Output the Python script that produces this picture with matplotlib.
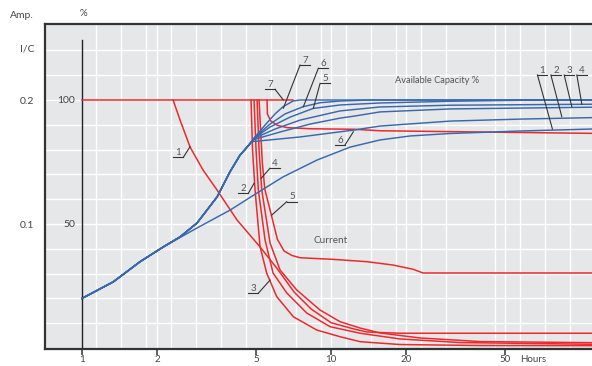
import matplotlib
matplotlib.use("Agg")
from matplotlib import pyplot as plt

plt.rcParams['font.family'] = ['Lato', 'DejaVu Sans']

# ---- available capacity (%) vs hours, blue ----
trunk_h = [1.0, 1.336, 1.71, 2.123]
trunk_p = [20.0, 26.7, 34.8, 40.8]
upper_h = [2.475, 2.896, 3.485, 3.93, 4.311, 4.599]
upper_p = [44.8, 50.4, 60.9, 71.1, 77.8, 81.0]

cap1_h = [2.896, 3.93, 5.045, 6.416, 8.784, 11.92, 15.73, 20.76, 30.06, 57.4, 111.6]
cap1_p = [48.4, 55.6, 62.5, 69.0, 75.8, 81.0, 83.9, 85.5, 86.5, 87.5, 88.3]
cap2_h = [4.80, 7.507, 12.37, 15.73, 30.06, 57.4, 111.6]
cap2_p = [83.2, 85.1, 87.9, 89.5, 91.5, 92.3, 92.9]
cap3_h = [4.906, 6.241, 8.235, 10.87, 12.37, 15.73, 30.06, 111.6]
cap3_p = [84.1, 87.1, 90.3, 92.7, 93.5, 95.2, 96.4, 97.1]
cap4_h = [4.952, 5.958, 7.507, 10.87, 15.73, 30.06, 111.6]
cap4_p = [84.7, 88.3, 91.9, 95.6, 97.2, 97.9, 98.3]
cap5_h = [4.952, 5.689, 6.845, 8.466, 10.87, 15.73, 30.06, 57.4, 111.6]
cap5_p = [84.9, 89.1, 93.1, 96.6, 98.0, 98.8, 99.5, 99.9, 100.0]
cap6_h = [4.952, 5.689, 6.536, 7.718, 9.034, 10.87, 14.34, 111.6]
cap6_p = [85.1, 90.3, 94.4, 97.3, 98.9, 99.6, 100.0, 100.0]
cap7_h = [4.952, 5.432, 5.958, 6.416, 7.037, 7.507, 111.6]
cap7_p = [85.1, 89.9, 94.4, 97.3, 99.6, 100.0, 100.0]

# ---- charge current (I/C) vs hours, red ----
flat_h = [1.0, 7.04]
flat_i = [0.2, 0.2]
cur1_h = [2.321, 2.475, 2.715, 3.062, 3.485, 4.193, 5.187, 6.071, 7.101, 8.312, 10.0, 12.37, 13.95, 18.93, 111.6]
cur1_i = [0.2, 0.1839, 0.1621, 0.1435, 0.1274, 0.1032, 0.0815, 0.0641, 0.0452, 0.0315, 0.0204, 0.0153, 0.0129, 0.0119, 0.0119]
cur2_h = [4.771, 4.838, 4.952, 5.187, 5.518, 6.053, 7.056, 8.760, 10.87, 13.08, 18.93, 39.67, 111.6]
cur2_i = [0.2, 0.1597, 0.1274, 0.0817, 0.0602, 0.0414, 0.0252, 0.0145, 0.0091, 0.0051, 0.0028, 0.0020, 0.0019]
cur3_h = [4.906, 4.998, 5.105, 5.432, 5.848, 6.639, 7.988, 9.908, 13.08, 18.93, 32.97, 111.6]
cur3_i = [0.2, 0.1597, 0.1274, 0.0871, 0.0605, 0.0444, 0.0282, 0.0172, 0.0119, 0.0073, 0.0044, 0.0030]
cur4_h = [5.045, 5.139, 5.268, 5.689, 6.241, 7.281, 9.034, 10.87, 13.08, 15.73, 22.78, 39.67, 111.6]
cur4_i = [0.2, 0.1597, 0.1274, 0.0847, 0.0629, 0.0468, 0.0306, 0.0212, 0.0161, 0.0121, 0.0081, 0.0052, 0.0043]
cur5_h = [5.139, 5.211, 5.298, 5.417, 5.726, 6.087, 6.476, 6.973, 7.507, 10.19, 13.95, 17.74, 21.35, 23.42, 111.6]
cur5_i = [0.2, 0.1758, 0.1494, 0.1282, 0.1091, 0.0877, 0.0782, 0.0746, 0.0728, 0.0715, 0.0696, 0.0669, 0.0635, 0.0605, 0.0605]
cur6_h = [5.534, 5.55, 5.726, 6.087, 6.678, 8.288, 12.37, 15.73, 111.6]
cur6_i = [0.2, 0.1887, 0.1831, 0.1796, 0.1777, 0.1768, 0.1764, 0.1752, 0.1731]

x_ticks = [1, 2, 5, 10, 20, 50]
grid_h = [1.136, 1.431, 1.803, 2.0, 2.271, 2.861, 3.605, 4.541, 5.721, 7.207, 9.08, 10.0,
          11.44, 14.41, 18.15, 20.0, 22.87, 28.81, 45.72, 50.0, 57.6, 72.56, 91.41]

# curve labels: number, leader start, leader end, underline direction
tags = [
    ("1", (2.552, 76.9), (2.715, 81.2), -1),
    ("7", (5.958, 104.3), (6.434, 100.0), -1),
    ("7", (7.507, 114.1), (6.434, 96.7), 1),
    ("6", (8.89, 112.8), (7.74, 97.3), 1),
    ("5", (9.034, 106.7), (8.49, 96.7), 1),
    ("6", (11.38, 81.9), (12.29, 87.2), -1),
    ("2", (4.655, 62.4), (4.906, 66.4), -1),
    ("4", (5.689, 72.5), (5.235, 68.4), 1),
    ("5", (6.639, 59.0), (5.778, 53.6), 1),
    ("3", (5.105, 22.1), (5.689, 27.4), -1),
    ("1", (67.4, 110.1), (77.4, 88.3), 1),
    ("2", (76.3, 110.1), (84.4, 93.3), 1),
    ("3", (86.3, 110.1), (92.6, 97.3), 1),
    ("4", (97.0, 110.1), (101.6, 98.3), 1),
]

red = '#ec2a2e'
blue = '#3a68ad'
ink = '#333333'
pct_per_amp = 500  # 0.2 I/C sits on the 100 % line

fig = plt.figure(figsize=(5.92, 3.66), dpi=100)
ax = fig.add_axes([45 / 592, 17 / 366, 547 / 592, 325 / 366])
ax.set_facecolor('#e6e7e8')
ax.set_xscale('log')
ax.set_xlim(0.7102, 111.6)
ax.set_ylim(-0.4, 130.65)

for g in grid_h:
    ax.axvline(g, color='white', lw=1.0, zorder=0)
for g in range(10, 130, 10):
    ax.axhline(g, color='white', lw=1.0, zorder=0)

ax.plot([1, 1], [0, 124.2], color='#222222', lw=1.0, zorder=1)

for h, i in [(flat_h, flat_i), (cur1_h, cur1_i), (cur2_h, cur2_i), (cur3_h, cur3_i),
             (cur4_h, cur4_i), (cur5_h, cur5_i), (cur6_h, cur6_i)]:
    ax.plot(h, [v * pct_per_amp for v in i], color=red, lw=1.1, zorder=2)

upper_tail_h = trunk_h + upper_h
upper_tail_p = trunk_p + upper_p
ax.plot(trunk_h + cap1_h, trunk_p + cap1_p, color=blue, lw=1.05, zorder=3)
for h, p in [(cap2_h, cap2_p), (cap3_h, cap3_p), (cap4_h, cap4_p),
             (cap5_h, cap5_p), (cap6_h, cap6_p), (cap7_h, cap7_p)]:
    ax.plot(upper_tail_h + h, upper_tail_p + p, color=blue, lw=1.05, zorder=3)

for num, (x0, y0), (x1, y1), side in tags:
    xe = x0 * 1.097 if side > 0 else x0 / 1.097
    ax.plot([x0, xe], [y0, y0], color=ink, lw=0.8, zorder=4)
    ax.plot([x0, x1], [y0, y1], color=ink, lw=0.8, zorder=4)
    ax.text((x0 * xe) ** 0.5, y0 + 0.9, num, ha='center', va='baseline',
            fontsize=7, color='#555555', zorder=4)

ax.text(0.94, 100, "100", ha='right', va='center', fontsize=7.5, color='#444444')
ax.text(0.94, 50, "50", ha='right', va='center', fontsize=7.5, color='#444444')
ax.text(18.07, 107.8, "Available Capacity %", ha='left', va='center', fontsize=6.7, color='#555555')
ax.text(8.47, 43.4, "Current", ha='left', va='center', fontsize=7.2, color='#555555')

for s in ['left', 'bottom', 'top']:
    ax.spines[s].set_color(ink)
    ax.spines[s].set_linewidth(1.6)
ax.spines['right'].set_visible(False)

ax.set_xticks(x_ticks)
ax.set_xticklabels([str(t) for t in x_ticks])
ax.xaxis.set_minor_locator(matplotlib.ticker.NullLocator())
ax.tick_params(axis='x', direction='out', length=4.0, width=1.1, color=ink,
               labelsize=7, labelcolor='#444444', pad=0.3)
ax.set_yticks([100, 50])
ax.set_yticklabels(["0.2", "0.1"])
ax.tick_params(axis='y', length=0, labelsize=7.5, labelcolor='#444444', pad=8)

fig.text(520 / 592, 1 - 355 / 366, "Hours", ha='left', va='top', fontsize=7, color='#444444')
fig.text(22 / 592, 1 - 16 / 366, "Amp.", ha='center', va='center', fontsize=7.5, color='#444444')
fig.text(83 / 592, 1 - 14 / 366, "%", ha='center', va='center', fontsize=7, color='#444444')
fig.text(27 / 592, 1 - 49 / 366, "I/C", ha='center', va='center', fontsize=7.5, color='#444444')

fig.savefig("out.png", dpi=100)
